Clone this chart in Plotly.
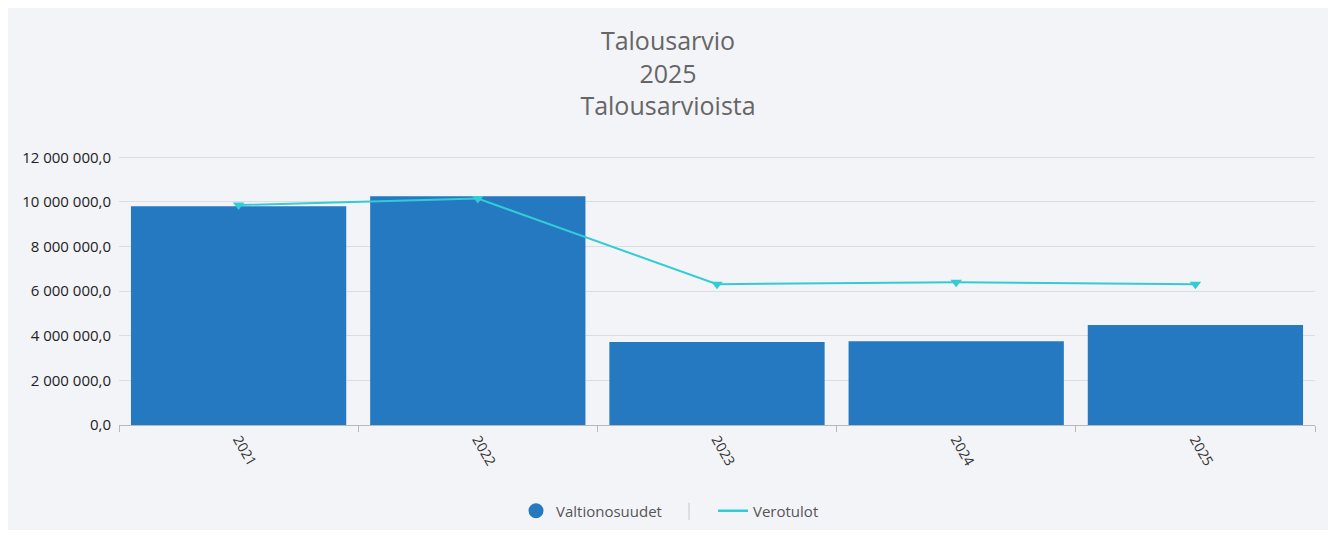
import plotly.graph_objects as go

years = ["2021", "2022", "2023", "2024", "2025"]
valtionosuudet = [9810000, 10260000, 3720000, 3760000, 4480000]
verotulot = [9860000, 10150000, 6310000, 6400000, 6310000]

title_lines = ["Talousarvio", "2025", "Talousarvioista"]
y_ticks = [0, 2000000, 4000000, 6000000, 8000000, 10000000, 12000000]
y_max = 12060000

BAR = "#2479c1"
LINE = "#33cbd5"
FONT = "Segoe UI, Open Sans, Noto Sans, sans-serif"

OFF = 8  # page body margin
W, H = 1336 - 2 * OFF, 538 - 2 * OFF
# plot area in page pixel coords
PL, PR, PB = 119, 1315, 425
P0, P12 = 425, 157
px_per_unit = (P0 - P12) / 12000000
PT = P0 - y_max * px_per_unit

L, R, T, B = PL - OFF, (W + OFF) - PR, PT - OFF, (H + OFF) - PB
pw, ph = W - L - R, H - T - B

def px_x(p):
    return (p - PL) / pw

def px_y(p):
    return (PB - p) / ph

def cont_y(p):
    return (H + OFF - p) / H

fig = go.Figure()
fig.add_trace(go.Bar(x=years, y=valtionosuudet, name="Valtionosuudet",
                     marker=dict(color=BAR, line=dict(width=0)), showlegend=False))
fig.add_trace(go.Scatter(x=years, y=verotulot, name="Verotulot", mode="lines+markers",
                         line=dict(color=LINE, width=2), showlegend=False,
                         marker=dict(symbol="triangle-down", size=10, color=LINE)))
# legend proxies
fig.add_trace(go.Scatter(x=[None], y=[None], mode="markers", name="Valtionosuudet",
                         marker=dict(color=BAR, size=15, symbol="circle"), legend="legend"))
fig.add_trace(go.Scatter(x=[None], y=[None], mode="lines", name="Verotulot",
                         line=dict(color=LINE, width=2.5), legend="legend2"))

fig.add_shape(type="rect", xref="paper", yref="paper",
              x0=px_x(7), x1=px_x(1329), y0=px_y(533), y1=px_y(5),
              fillcolor="#f3f4f8", line=dict(color="#f0f1f5", width=1), layer="below")
# legend separator
fig.add_shape(type="line", xref="paper", yref="paper",
              x0=px_x(689), x1=px_x(689), y0=px_y(503), y1=px_y(520),
              line=dict(color="#c8c8c8", width=1))

leg_common = dict(orientation="h", yref="container", yanchor="middle", y=cont_y(511),
                  xanchor="left",
                  font=dict(size=15, color="#555555", family=FONT),
                  bgcolor="rgba(0,0,0,0)", itemwidth=30)

fig.update_layout(
    width=W, height=H,
    paper_bgcolor="white", plot_bgcolor="rgba(0,0,0,0)",
    margin=dict(l=L, r=R, t=T, b=B, pad=0, autoexpand=False),
    separators=", ",
    font=dict(family=FONT, color="#333333", size=13),
    title=dict(text="<br>".join(title_lines), x=0.5, xanchor="center",
               y=1 - 42 / H, yanchor="top",
               font=dict(family=FONT, size=25, color="#666666")),
    bargap=0.1,
    showlegend=True,
    legend=dict(**leg_common, x=px_x(516)),
    legend2=dict(**leg_common, x=px_x(713)),
    xaxis=dict(type="category", tickangle=60, tickson="boundaries", ticks="outside",
               ticklen=6, tickcolor="#b8b8b8", showline=True, linecolor="#b8b8b8",
               showgrid=False, tickfont=dict(size=14, color="#333333")),
    yaxis=dict(range=[0, y_max], tickvals=y_ticks, tickformat=",.1f",
               showgrid=True, gridcolor="#dcdde2", zeroline=False, showline=False,
               ticks="", ticklabelstandoff=7,
               tickfont=dict(size=15, color="#222222")),
)

fig.write_html("out.html")
